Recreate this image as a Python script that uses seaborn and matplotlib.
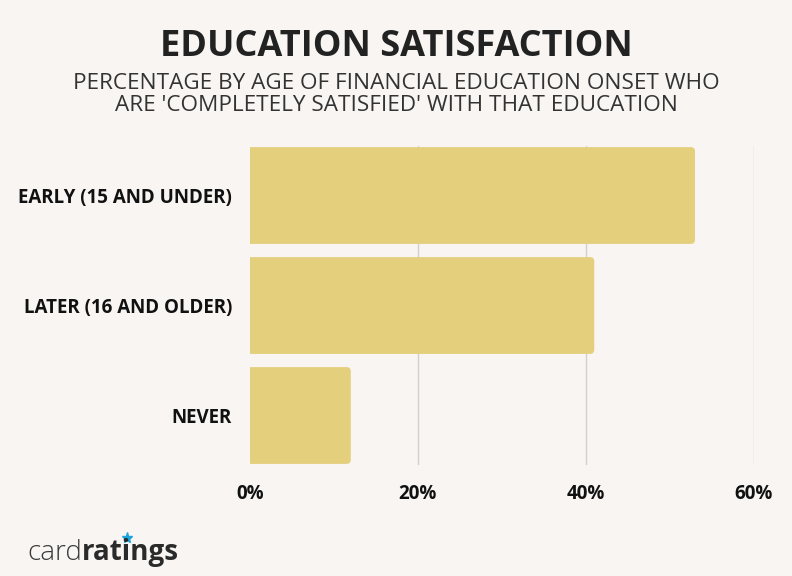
import seaborn as sns
import matplotlib.pyplot as plt
from matplotlib.patches import FancyBboxPatch
from matplotlib.lines import Line2D
import pandas as pd

categories = ['EARLY (15 AND UNDER)', 'LATER (16 AND OLDER)', 'NEVER']
satisfied = [53, 41, 12]
xticks = [0, 20, 40, 60]

bg = '#f8f5f3'
bar_color = '#e4cf7c'
fonts = ['Open Sans', 'DejaVu Sans']

sns.set_style('white')
plt.rcParams['font.family'] = fonts

df = pd.DataFrame({'onset': categories, 'pct': satisfied})

fig = plt.figure(figsize=(7.92, 5.76), dpi=100, facecolor=bg)
ax = fig.add_axes([0.3157, 0.1927, 0.636, 0.5538])
ax.set_facecolor(bg)

sns.barplot(data=df, x='pct', y='onset', orient='h', color=bar_color,
            width=0.88, saturation=1, ax=ax, zorder=2)

# swap the plain bars for ones with rounded right corners
for p in list(ax.patches):
    x, y, w, h = p.get_x(), p.get_y(), p.get_width(), p.get_height()
    p.remove()
    ax.add_patch(FancyBboxPatch((x - 1, y), w + 1, h,
                                boxstyle='round,pad=0,rounding_size=0.5',
                                mutation_aspect=0.076, fc=bar_color, ec='none',
                                zorder=2))

ax.set_xlim(0, 60)
ax.set_ylim(2.45, -0.45)
ax.set_xticks(xticks)
ax.set_xticklabels([f'{t}%' for t in xticks], fontsize=13.5, fontweight='bold',
                   color='#111111')
ax.tick_params(axis='both', length=0)
ax.tick_params(axis='x', pad=14)
ax.tick_params(axis='y', pad=13)
for lab in ax.get_yticklabels():
    lab.set_fontsize(13.5)
    lab.set_fontweight('bold')
    lab.set_color('#111111')
ax.set_xlabel('')
ax.set_ylabel('')
ax.grid(axis='x', color='#d3cfcc', linewidth=1)
ax.get_xgridlines()[0].set_visible(False)
ax.set_axisbelow(True)
sns.despine(ax=ax, left=True, bottom=True)

fig.text(0.5, 0.919, 'EDUCATION SATISFACTION', ha='center', va='center',
         fontsize=26, fontweight='bold', color='#222222')
fig.text(0.5, 0.836, "PERCENTAGE BY AGE OF FINANCIAL EDUCATION ONSET WHO\n"
         "ARE 'COMPLETELY SATISFIED' WITH THAT EDUCATION",
         ha='center', va='center', fontsize=16.2, color='#333333',
         linespacing=1.1)

# logo
t1 = fig.text(0.034, 0.028, 'card', fontsize=20, fontweight='light',
              color='#3a3a3a', ha='left', va='baseline')
fig.canvas.draw()
bb = t1.get_window_extent().transformed(fig.transFigure.inverted())
fig.text(bb.x1, 0.028, 'ratings', fontsize=20, fontweight='bold',
         color='#2a2a2a', ha='left', va='baseline')
# blue star dotting the i
fig.add_artist(Line2D([0.1605], [0.066], marker='*', markersize=8,
                      color='#1aa3dd', linestyle='none',
                      transform=fig.transFigure))

fig.savefig('out.png', dpi=100, facecolor=bg)
